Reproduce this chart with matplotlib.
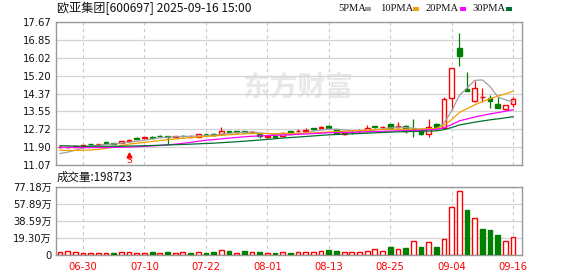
import matplotlib
matplotlib.use("Agg")
import matplotlib.pyplot as plt
import numpy as np
import pandas as pd
from matplotlib.patches import Rectangle

plt.rcParams["font.family"] = ["DejaVu Sans", "Noto Sans CJK SC"]
CJK = ["Noto Sans CJK SC", "DejaVu Sans"]

# ---- data ----
dates = [
    "06-25", "06-26", "06-27", "06-30",
    "07-01", "07-02", "07-03", "07-04", "07-07", "07-08", "07-09", "07-10",
    "07-11", "07-14", "07-15", "07-16", "07-17", "07-18", "07-21", "07-22",
    "07-23", "07-24", "07-25", "07-28", "07-29", "07-30", "07-31",
    "08-01", "08-04", "08-05", "08-06", "08-07", "08-08", "08-11", "08-12",
    "08-13", "08-14", "08-15", "08-18", "08-19", "08-20", "08-21", "08-22",
    "08-25", "08-26", "08-27", "08-28", "08-29",
    "09-01", "09-02", "09-03", "09-04", "09-05", "09-08", "09-09", "09-10",
    "09-11", "09-12", "09-15", "09-16",
]
opens = [
    11.89, 11.90, 11.92, 11.95, 12.03, 12.02, 12.11, 12.09, 12.08, 12.16,
    12.30, 12.32, 12.36, 12.43, 12.42, 12.37, 12.42, 12.37, 12.38, 12.51,
    12.49, 12.49, 12.64, 12.62, 12.63, 12.58, 12.48, 12.38, 12.40, 12.40,
    12.62, 12.62, 12.64, 12.76, 12.78, 12.88, 12.73, 12.52, 12.61, 12.62,
    12.65, 12.85, 12.82, 12.96, 12.84, 12.87, 12.75, 12.73, 12.50, 12.96,
    12.78, 14.15, 16.46, 14.58, 14.02, 14.21, 14.15, 13.89, 13.64, 13.89,
]
highs = [
    11.95, 11.93, 11.96, 11.99, 12.06, 12.06, 12.11, 12.10, 12.18, 12.25,
    12.34, 12.37, 12.40, 12.44, 12.43, 12.40, 12.45, 12.44, 12.50, 12.52,
    12.53, 12.81, 12.66, 12.66, 12.65, 12.62, 12.50, 12.45, 12.43, 12.58,
    12.64, 12.72, 12.76, 12.76, 12.87, 12.90, 12.75, 12.60, 12.62, 12.72,
    12.90, 12.88, 12.86, 12.98, 13.07, 12.92, 13.19, 12.76, 13.19, 13.00,
    14.22, 15.55, 17.18, 15.38, 14.95, 14.61, 14.30, 14.22, 13.85, 14.22,
]
lows = [
    11.85, 11.87, 11.90, 11.93, 11.98, 12.01, 12.05, 12.04, 12.07, 12.15,
    12.26, 12.29, 12.31, 12.38, 12.06, 12.36, 12.37, 12.34, 12.37, 12.45,
    12.43, 12.48, 12.58, 12.56, 12.55, 12.56, 12.30, 12.33, 12.30, 12.38,
    12.52, 12.58, 12.60, 12.68, 12.75, 12.76, 12.50, 12.44, 12.50, 12.55,
    12.64, 12.80, 12.78, 12.74, 12.80, 12.55, 12.36, 12.45, 12.38, 12.80,
    12.76, 13.61, 15.65, 14.47, 14.00, 13.99, 13.69, 13.69, 13.62, 13.73,
]
closes = [
    11.90, 11.92, 11.94, 11.97, 12.02, 12.05, 12.10, 12.06, 12.16, 12.23,
    12.29, 12.34, 12.33, 12.42, 12.38, 12.39, 12.41, 12.38, 12.49, 12.48,
    12.47, 12.63, 12.60, 12.61, 12.58, 12.59, 12.40, 12.41, 12.37, 12.56,
    12.54, 12.64, 12.67, 12.75, 12.81, 12.78, 12.55, 12.56, 12.60, 12.66,
    12.79, 12.83, 12.84, 12.77, 12.86, 12.66, 12.72, 12.50, 12.84, 12.83,
    14.12, 15.53, 16.12, 14.50, 14.61, 14.22, 14.02, 13.72, 13.83, 14.12,
]
# volume in 万 (last bar = 198723)
volumes = [
    3.4, 4.5, 3.0, 1.9, 1.9, 1.9, 1.9, 2.3, 3.4, 3.4,
    1.9, 1.9, 3.4, 1.9, 3.4, 1.9, 3.0, 2.3, 3.0, 2.3,
    3.4, 5.7, 5.0, 1.9, 5.0, 3.0, 3.4, 1.9, 1.9, 3.0,
    1.9, 3.0, 3.0, 3.0, 4.5, 6.0, 4.5, 3.0, 3.0, 3.0,
    4.5, 6.4, 4.5, 9.1, 6.4, 7.9, 15.9, 9.1, 14.4, 9.1,
    18.2, 54.1, 72.6, 51.1, 41.6, 29.5, 28.4, 22.7, 15.9, 19.8723,
]
# closes before 06-25, backed out of where the MA lines start on the left edge
pre_closes = [
    12.15, 12.20, 12.12, 12.08, 12.05, 12.10, 12.14, 12.06, 12.04, 12.06,
    12.08, 12.02, 12.05, 12.00, 12.06, 12.04, 11.98, 12.03, 12.01, 12.03,
    11.98, 11.95, 11.90, 11.86, 11.81, 11.60, 11.50, 11.48, 11.52,
]
price_ticks = [11.07, 11.90, 12.72, 13.55, 14.37, 15.20, 16.02, 16.85, 17.67]
vol_ticks = [0, 19.30, 38.59, 57.89, 77.18]
vol_tick_labels = ["0", "19.30万", "38.59万", "57.89万", "77.18万"]
label_dates = ["06-30", "07-10", "07-22", "08-01", "08-13", "08-25", "09-04", "09-16"]
ma_periods = [5, 10, 20, 30]
ma_names = ["5PMA", "10PMA", "20PMA", "30PMA"]
ma_colors = ["#a0a0a0", "#f0a000", "#ff00ff", "#007030"]
signal_idx = 9  # the red "S" under 07-08

RED = "#ff0000"
GREEN = "#008000"
GRID = "#d4d4d4"
BORDER = "#999999"

# ---- derived ----
n = len(closes)
x = np.arange(n)
o = np.array(opens)
c = np.array(closes)
prev = np.concatenate([[pre_closes[-1]], c[:-1]])
up = (c > o) | ((c == o) & (c >= prev))
vol_up = c >= prev
all_close = pd.Series(pre_closes + closes)
mas = [all_close.rolling(p).mean().iloc[len(pre_closes):].values for p in ma_periods]
label_idx = [dates.index(d) for d in label_dates]

# ---- figure ----
W, H = 578, 276
fig = plt.figure(figsize=(W / 100, H / 100), dpi=100)


def box(l, t, r, b):
    return [l / W, 1 - b / H, (r - l) / W, (b - t) / H]


def fx(px):
    return px / W


def fy(py):
    return 1 - py / H


ax = fig.add_axes(box(56, 22, 522, 165))
axv = fig.add_axes(box(56, 187, 522, 255))

xlim = (-0.52, 60.16)
bw = 0.62

for a in (ax, axv):
    a.set_xlim(*xlim)
    for s in a.spines.values():
        s.set_color(BORDER)
        s.set_linewidth(1.0)
    for i in label_idx:
        a.axvline(i, color="#c8c8c8", lw=0.8, ls=(0, (3, 3)), zorder=0)
    a.tick_params(length=0, labelsize=7.2, pad=3, colors="#111111")

# watermark
ax.text(0.52, 0.54, "东方财富", transform=ax.transAxes, ha="center", va="center",
        fontsize=20, fontweight="bold", color="#e8e8e8", family=CJK, zorder=0)

# price panel
ax.set_ylim(price_ticks[0], price_ticks[-1])
ax.set_yticks(price_ticks)
ax.set_yticklabels([f"{t:.2f}" for t in price_ticks])
ax.yaxis.grid(True, color=GRID, lw=0.9, zorder=0)
ax.set_xticks([])

for i in range(n):
    lo, hi = min(o[i], c[i]), max(o[i], c[i])
    if up[i]:
        ax.vlines(i, hi, highs[i], color=RED, lw=0.9, zorder=3)
        ax.vlines(i, lows[i], lo, color=RED, lw=0.9, zorder=3)
        ax.add_patch(Rectangle((i - bw / 2, lo), bw, hi - lo, facecolor="white",
                               edgecolor=RED, lw=1.0, zorder=3))
    else:
        ax.vlines(i, lows[i], highs[i], color=GREEN, lw=0.9, zorder=3)
        ax.add_patch(Rectangle((i - bw / 2, lo), bw, hi - lo, facecolor=GREEN,
                               edgecolor=GREEN, lw=1.0, zorder=3))

for m, col in zip(mas, ma_colors):
    ax.plot(x, m, color=col, lw=0.9, zorder=4)

ax.plot(signal_idx, 11.55, marker="^", ms=3.5, color=RED, zorder=5)
ax.text(signal_idx, 11.30, "S", color=RED, fontsize=6.5, ha="center", va="center", zorder=5)

# volume panel
axv.set_ylim(0, vol_ticks[-1])
axv.set_yticks(vol_ticks)
axv.set_yticklabels(vol_tick_labels)
axv.yaxis.grid(True, color=GRID, lw=0.9, zorder=0)
axv.set_xticks(label_idx)
axv.set_xticklabels(label_dates, color=RED)
axv.tick_params(axis="x", pad=5, labelcolor=RED)
for i in range(n):
    if vol_up[i]:
        axv.add_patch(Rectangle((i - bw / 2, 0), bw, volumes[i], facecolor="white",
                                edgecolor=RED, lw=1.0, zorder=3))
    else:
        axv.add_patch(Rectangle((i - bw / 2, 0), bw, volumes[i], facecolor=GREEN,
                                edgecolor=GREEN, lw=1.0, zorder=3))

# header texts
fig.text(fx(57), fy(8), "欧亚集团[600697] 2025-09-16 15:00", fontsize=8.7,
         va="center", ha="left", family=CJK, color="#111111")
fig.text(fx(57), fy(177), f"成交量:{round(volumes[-1] * 10000)}", fontsize=8.3,
         va="center", ha="left", family=CJK, color="#111111")

leg_x = [338, 380, 425, 472]
sw_x = [365, 413, 460, 506]
for name, col, tx, sx in zip(ma_names, ma_colors, leg_x, sw_x):
    fig.text(fx(tx), fy(8.5), name, fontsize=7.6, va="center", ha="left",
             family="Liberation Serif", color="#111111")
    fig.add_artist(Rectangle((fx(sx), fy(10.5)), 6 / W, 3.5 / H, facecolor=col,
                             edgecolor="none", transform=fig.transFigure))

fig.savefig("out.png", dpi=100)
